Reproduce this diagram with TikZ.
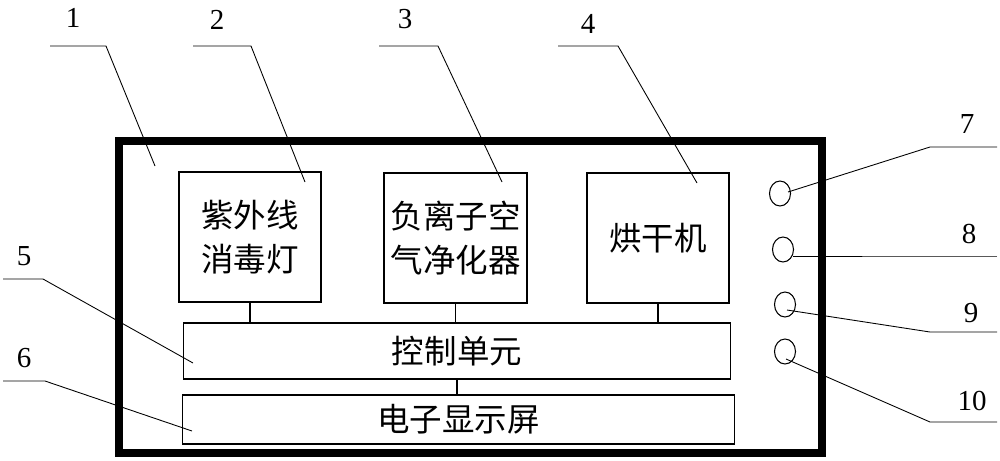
\documentclass[tikz,border=0pt]{standalone}
\usepackage{fontspec}
\setmainfont{Liberation Serif}
\newfontfamily\cjk{Noto Sans CJK SC}
\usetikzlibrary{shapes.geometric}
\begin{document}
\begin{tikzpicture}[x = 0.02cm, y = -0.02cm,
        part/.style = {draw, line width = 0.6pt, align = center, inner sep = 0pt,
            font = \cjk\fontsize{18.5}{25}\selectfont},
        knob/.style = {draw, ellipse, line width = 0.6pt, inner sep = 0pt,
            minimum width = 0.42cm, minimum height = 0.5cm},
        num/.style = {font = \fontsize{16.5}{18}\selectfont, inner sep = 0pt},
        lead/.style = {line width = 0.5pt}]
        \useasboundingbox (0, 0) rectangle (1000, 460);
        \draw[line width = 4.5pt] (119, 141) rectangle (822, 453);
        \node[part, minimum width = 2.84cm, minimum height = 2.6cm] (lamp) at (250, 237) {紫外线\\消毒灯};
        \node[part, minimum width = 2.86cm, minimum height = 2.6cm] (purifier) at (455.5, 238) {负离子空\\气净化器};
        \node[part, minimum width = 2.84cm, minimum height = 2.6cm] (dryer) at (658, 238) {烘干机};
        \node[part, minimum width = 10.96cm, minimum height = 1.12cm] (ctrl) at (457, 351) {控制单元};
        \node[part, minimum width = 11.06cm, minimum height = 0.98cm] (disp) at (458.5, 419.5) {电子显示屏};
        \draw[line width = 0.6pt] (lamp.south) -- (lamp.south |- ctrl.north);
        \draw[line width = 0.6pt] (purifier.south) -- (purifier.south |- ctrl.north);
        \draw[line width = 0.6pt] (dryer.south) -- (dryer.south |- ctrl.north);
        \draw[line width = 0.6pt] (ctrl.south) -- (ctrl.south |- disp.north);
        \node[knob] (btn7) at (780, 193.5) {};
        \node[knob] (btn8) at (783, 249.5) {};
        \node[knob] (btn9) at (785, 304.5) {};
        \node[knob] (btn10) at (785, 351.5) {};
        \foreach \n/\lx/\ly/\bx/\by/\kx/\ex/\ey in {
                1/73/18/50/46/106/155/166, 2/217/20/193/46/251/305/182,
                3/405/19/379/46/438/502/182, 4/588/24/558/46/618/697/183,
                5/24/256/3/279/43/193/363, 6/24/358/3/381/45/192/431,
                7/967/124/997/147/930/788/192, 8/969/234/997/256/930/793/256,
                9/971/313/997/332/930/787/310, 10/972/401/997/422/930/786/359} {
            \node[num] (n\n) at (\lx, \ly) {\n};
            \coordinate (b\n) at (\bx, \by);
            \coordinate (k\n) at (\kx, \by);
            \coordinate (e\n) at (\ex, \ey);
            \draw[lead] (b\n) -- (k\n) -- (e\n);
        }
    \end{tikzpicture}
\end{document}
